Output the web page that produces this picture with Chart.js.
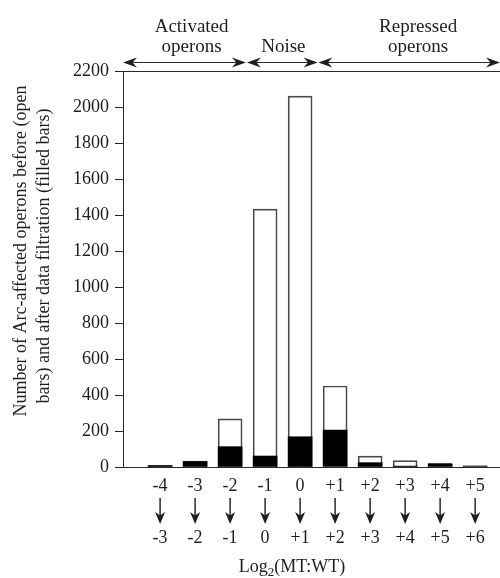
<!DOCTYPE html>
<html>
<head>
<meta charset="utf-8">
<script src="https://cdn.jsdelivr.net/npm/chart.js@4"></script>
<style>
body { margin: 0; background: #fff; }
</style>
</head>
<body>
<canvas id="barChart" width="500" height="578"></canvas>
<script>
var categories = [-4, -3, -2, -1, 0, 1, 2, 3, 4, 5];
var fromLabels = ['-4', '-3', '-2', '-1', '0', '+1', '+2', '+3', '+4', '+5'];
var toLabels = ['-3', '-2', '-1', '0', '+1', '+2', '+3', '+4', '+5', '+6'];
var beforeFilter = [8, 33, 267, 1433, 2061, 450, 61, 35, 20, 8];
var afterFilter = [8, 30, 113, 61, 168, 205, 24, 5, 15, 3];
var yTicks = [0, 200, 400, 600, 800, 1000, 1200, 1400, 1600, 1800, 2000, 2200];
var regions = [
    { lines: ['Activated', 'operons'], from: -5.06, to: -1.55, labelAt: -3.1 },
    { lines: ['Noise'], from: -1.52, to: 0.5, labelAt: -0.48 },
    { lines: ['Repressed', 'operons'], from: 0.52, to: 5.71, labelAt: 3.37 }
];

var serif = "'Liberation Serif', 'Times New Roman', serif";
var ink = '#1e1e1e';

function points(vals) {
    return categories.map(function (c, i) { return { x: c, y: vals[i] }; });
}

function arrowHead(ctx, x, y, dir) {
    // barbed head, dir: -1 left, 1 right, 2 down
    ctx.beginPath();
    if (dir === 2) {
        ctx.moveTo(x, y);
        ctx.lineTo(x - 5, y - 12);
        ctx.lineTo(x, y - 8.5);
        ctx.lineTo(x + 5, y - 12);
    } else {
        ctx.moveTo(x, y);
        ctx.lineTo(x - dir * 14, y - 5);
        ctx.lineTo(x - dir * 9.5, y);
        ctx.lineTo(x - dir * 14, y + 5);
    }
    ctx.closePath();
    ctx.fill();
}

var decorations = {
    id: 'decorations',
    afterDraw: function (chart) {
        var ctx = chart.ctx;
        var area = chart.chartArea;
        var xs = chart.scales.x;
        ctx.save();
        ctx.strokeStyle = '#2a2a2a';
        ctx.fillStyle = ink;
        ctx.lineWidth = 1;

        // top frame line
        ctx.beginPath();
        ctx.moveTo(area.left, area.top + 0.5);
        ctx.lineTo(area.right, area.top + 0.5);
        ctx.stroke();

        // region arrows and labels
        ctx.font = '19px ' + serif;
        ctx.textAlign = 'center';
        ctx.textBaseline = 'alphabetic';
        regions.forEach(function (r) {
            var x1 = xs.getPixelForValue(r.from);
            var x2 = xs.getPixelForValue(r.to);
            var y = 62.5;
            ctx.beginPath();
            ctx.moveTo(x1 + 6, y);
            ctx.lineTo(x2 - 6, y);
            ctx.stroke();
            arrowHead(ctx, x1, y, -1);
            arrowHead(ctx, x2, y, 1);
            var cx = xs.getPixelForValue(r.labelAt);
            if (r.lines.length === 2) {
                ctx.fillText(r.lines[0], cx, 32);
                ctx.fillText(r.lines[1], cx, 52);
            } else {
                ctx.fillText(r.lines[0], cx, 52);
            }
        });

        // x labels: from -> to
        ctx.font = '18px ' + serif;
        ctx.textBaseline = 'middle';
        categories.forEach(function (c, i) {
            var x = xs.getPixelForValue(c);
            ctx.fillText(fromLabels[i], x, 486);
            ctx.beginPath();
            ctx.lineWidth = 1.5;
            ctx.moveTo(x, 498);
            ctx.lineTo(x, 516);
            ctx.stroke();
            arrowHead(ctx, x, 524, 2);
            ctx.fillText(toLabels[i], x, 538);
        });

        // x title with subscript
        ctx.textAlign = 'left';
        ctx.textBaseline = 'alphabetic';
        var t1 = 'Log', t2 = '2', t3 = '(MT:WT)';
        ctx.font = '18px ' + serif;
        var w1 = ctx.measureText(t1).width;
        var w3 = ctx.measureText(t3).width;
        ctx.font = '13px ' + serif;
        var w2 = ctx.measureText(t2).width;
        var sx = 292 - (w1 + w2 + w3) / 2;
        ctx.font = '18px ' + serif;
        ctx.fillText(t1, sx, 572);
        ctx.font = '13px ' + serif;
        ctx.fillText(t2, sx + w1, 576);
        ctx.font = '18px ' + serif;
        ctx.fillText(t3, sx + w1 + w2, 572);

        // y title, two lines rotated
        ctx.font = '18px ' + serif;
        ctx.textAlign = 'center';
        ctx.textBaseline = 'middle';
        ctx.save();
        ctx.translate(21, 251);
        ctx.rotate(-Math.PI / 2);
        ctx.fillText('Number of Arc-affected operons before (open', 0, 0);
        ctx.restore();
        ctx.save();
        ctx.translate(44, 256);
        ctx.rotate(-Math.PI / 2);
        ctx.fillText('bars) and after data filtration (filled bars)', 0, 0);
        ctx.restore();

        ctx.restore();
    }
};

var ctx = document.getElementById('barChart').getContext('2d');
var myChart = new Chart(ctx, {
    type: 'bar',
    data: {
        datasets: [{
            label: 'After filtration',
            data: points(afterFilter),
            backgroundColor: '#000',
            borderWidth: 0,
            barThickness: 24,
            grouped: false,
            order: 0
        }, {
            label: 'Before filtration',
            data: points(beforeFilter),
            backgroundColor: '#fff',
            borderColor: '#4a4a4a',
            borderWidth: 1.7,
            barThickness: 24,
            grouped: false,
            order: 1
        }]
    },
    options: {
        responsive: false,
        animation: false,
        layout: { padding: { top: 71, bottom: 111, left: 0, right: 0 } },
        plugins: {
            legend: { display: false },
            tooltip: { enabled: false }
        },
        scales: {
            x: {
                type: 'linear',
                min: -5.06,
                max: 5.71,
                offset: false,
                ticks: { display: false },
                grid: { display: false, drawTicks: false, tickLength: 0, offset: false },
                border: { display: true, color: '#2a2a2a', width: 1 },
                afterFit: function (scale) { scale.height = 0; }
            },
            y: {
                min: 0,
                max: 2200,
                afterBuildTicks: function (scale) {
                    scale.ticks = yTicks.map(function (v) { return { value: v }; });
                },
                ticks: {
                    color: ink,
                    padding: 6,
                    font: { family: serif, size: 18 },
                    callback: function (v) { return String(v); }
                },
                grid: {
                    drawOnChartArea: false,
                    drawTicks: true,
                    tickLength: 8,
                    tickColor: '#2a2a2a'
                },
                border: { display: true, color: '#2a2a2a', width: 1 },
                afterFit: function (scale) { scale.width = 123; }
            }
        }
    },
    plugins: [decorations]
});
</script>
</body>
</html>
